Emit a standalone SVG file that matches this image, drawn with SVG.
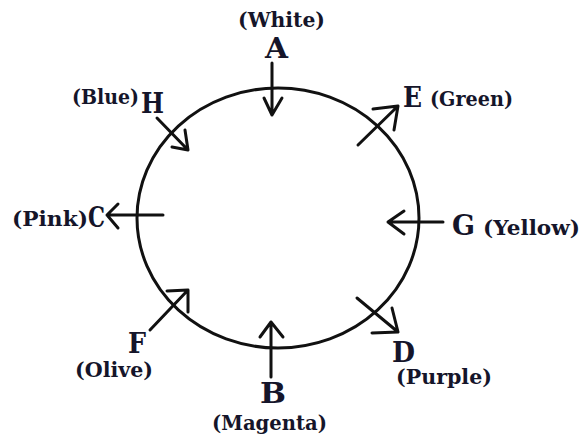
<svg xmlns="http://www.w3.org/2000/svg" width="582" height="440" viewBox="0 0 582 440">
<style>
.bg{fill:#fff}
.ring{fill:none;stroke:#111;stroke-width:3}
.ln{fill:none;stroke:#111;stroke-width:3;stroke-linecap:round;stroke-linejoin:round}
.ltr{font-family:"DejaVu Serif","Liberation Serif",serif;font-weight:bold;font-size:28px;fill:#15152a}
.clr{font-family:"DejaVu Serif","Liberation Serif",serif;font-weight:bold;font-size:19.5px;fill:#15152a}
</style>
<rect class="bg" x="0" y="0" width="582" height="440"/>
<g id="circle"><ellipse class="ring" cx="278" cy="218" rx="141" ry="130"/></g>
<g id="connectors">
<path class="ln" d="M272,63 V115 M264,98 L272,115 L282,98"/>
<path class="ln" d="M271,377 V322 M260,337 L271,322 L283,337"/>
<path class="ln" d="M163,215 H107 M118,204 L107,215 L118,228"/>
<path class="ln" d="M443,222 H388 M404,211 L388,222 L404,234"/>
<path class="ln" d="M358,145 L398,106 M373,109 L398,106 L394,130"/>
<path class="ln" d="M157,118 L188,150 M185,130 L188,150 L172,147"/>
<path class="ln" d="M357,298 L398,332 M392,308 L398,332 L372,333"/>
<path class="ln" d="M150,330 L188,290 M167,291 L188,290 L188,312"/>
</g>
<g id="nodeA"><text class="clr" x="238" y="27" textLength="87" lengthAdjust="spacingAndGlyphs">(White)</text><text class="ltr" x="265" y="58" textLength="23" lengthAdjust="spacingAndGlyphs">A</text></g>
<g id="nodeH"><text class="clr" x="72" y="104" textLength="67" lengthAdjust="spacingAndGlyphs">(Blue)</text><text class="ltr" x="141" y="113" textLength="23" lengthAdjust="spacingAndGlyphs">H</text></g>
<g id="nodeE"><text class="ltr" x="403" y="107" textLength="19" lengthAdjust="spacingAndGlyphs">E</text><text class="clr" x="430" y="106" textLength="83" lengthAdjust="spacingAndGlyphs">(Green)</text></g>
<g id="nodeC"><text class="clr" x="12" y="226" textLength="76" lengthAdjust="spacingAndGlyphs">(Pink)</text><text class="ltr" x="88" y="227" textLength="17" lengthAdjust="spacingAndGlyphs">C</text></g>
<g id="nodeG"><text class="ltr" x="452" y="235" textLength="23" lengthAdjust="spacingAndGlyphs">G</text><text class="clr" x="483" y="235" textLength="97" lengthAdjust="spacingAndGlyphs">(Yellow)</text></g>
<g id="nodeD"><text class="ltr" x="392" y="362" textLength="23" lengthAdjust="spacingAndGlyphs">D</text><text class="clr" x="396" y="384" textLength="96" lengthAdjust="spacingAndGlyphs">(Purple)</text></g>
<g id="nodeF"><text class="ltr" x="128" y="353" textLength="18" lengthAdjust="spacingAndGlyphs">F</text><text class="clr" x="75" y="377" textLength="78" lengthAdjust="spacingAndGlyphs">(Olive)</text></g>
<g id="nodeB"><text class="ltr" x="260" y="403" textLength="26" lengthAdjust="spacingAndGlyphs">B</text><text class="clr" x="212" y="430" textLength="115" lengthAdjust="spacingAndGlyphs">(Magenta)</text></g>
</svg>
